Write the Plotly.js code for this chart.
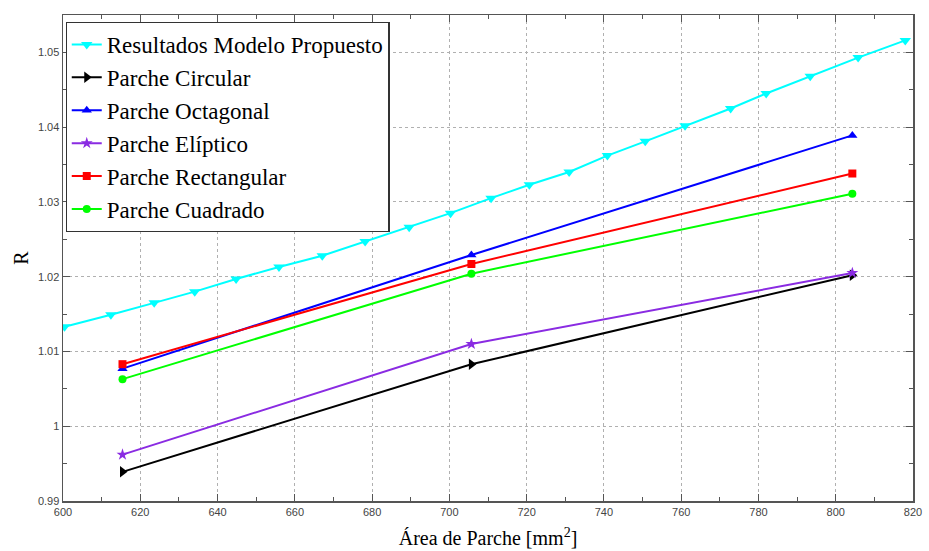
<!DOCTYPE html>
<html>
<head>
<meta charset="utf-8">
<script src="https://cdn.plot.ly/plotly-3.0.1.min.js"></script>
<style>html,body{margin:0;padding:0;background:#fff;}#chart{width:929px;height:551px;}</style>
</head>
<body>
<div id="chart"></div>
<script>
// Resultados Modelo Propuesto
const modelX = [600.4, 612.4, 623.6, 634.1, 644.8, 655.9, 667.1, 678.2, 689.6, 700.3, 710.8, 720.7, 731.0, 740.9, 750.7, 761.0, 772.8, 782.0, 793.4, 805.8, 818.0];
const modelY = [1.0133, 1.0149, 1.0165, 1.0180, 1.0197, 1.0213, 1.0228, 1.0247, 1.0266, 1.0285, 1.0305, 1.0323, 1.0340, 1.0362, 1.0381, 1.0402, 1.0425, 1.0445, 1.0468, 1.0493, 1.0516];

// Measured patches (area in mm^2)
const patchX = [615.4, 705.7, 804.3];
const circularY = [0.9939, 1.0083, 1.0202];
const octagonalY = [1.0077, 1.0229, 1.0389];
const ellipticY = [0.9962, 1.0110, 1.0205];
const rectangularY = [1.0083, 1.0217, 1.0338];
const squareY = [1.0063, 1.0204, 1.0311];

const names = ["Resultados Modelo Propuesto", "Parche Circular", "Parche Octagonal", "Parche Elíptico", "Parche Rectangular", "Parche Cuadrado"];
const xTickVals = [600, 620, 640, 660, 680, 700, 720, 740, 760, 780, 800, 820];
const yTickVals = [0.99, 1.00, 1.01, 1.02, 1.03, 1.04, 1.05];

function tr(name, x, y, color, symbol, size) {
  return {
    type: 'scatter', mode: 'lines+markers', name: name, x: x, y: y,
    line: {color: color, width: 2},
    marker: {color: color, symbol: symbol, size: size, line: {width: 0}}
  };
}

const data = [
  tr(names[0], modelX, modelY, '#00ffff', 'triangle-down', 10),
  tr(names[1], patchX, circularY, '#000000', 'triangle-right', 10),
  tr(names[2], patchX, octagonalY, '#0000ff', 'triangle-up', 9),
  tr(names[3], patchX, ellipticY, '#8a2be2', 'star', 9),
  tr(names[4], patchX, rectangularY, '#ff0000', 'square', 8),
  tr(names[5], patchX, squareY, '#00ff00', 'circle', 8)
];

const serif = 'Liberation Serif, Times New Roman, serif';
const tickFont = {family: 'Liberation Sans Narrow, Liberation Sans, Arial, sans-serif', size: 11, color: '#444'};

const layout = {
  width: 929, height: 551,
  margin: {l: 63, r: 16, t: 15, b: 50},
  paper_bgcolor: '#fff', plot_bgcolor: '#fff',
  font: {family: serif},
  showlegend: true,
  legend: {
    x: 0.003, y: 0.986, xanchor: 'left', yanchor: 'top',
    bgcolor: '#fff', bordercolor: '#333', borderwidth: 1.2,
    font: {family: serif, size: 23, color: '#000'},
    tracegroupgap: 0, itemwidth: 30
  },
  xaxis: {
    range: [600, 820], tickvals: xTickVals, ticks: 'inside', ticklen: 7, tickcolor: '#555',
    showline: true, linecolor: '#555', linewidth: 1.5, mirror: 'ticks',
    showgrid: true, gridcolor: '#b0b0b0', griddash: 'dot', gridwidth: 1,
    zeroline: false, tickfont: tickFont,
    minor: {dtick: 10, tick0: 600, ticks: 'inside', ticklen: 4, tickcolor: '#555', showgrid: false},
    title: {text: 'Área de Parche [mm<sup>2</sup>]', standoff: 14,
      font: {family: serif, size: 20, color: '#000'}}
  },
  yaxis: {
    range: [0.99, 1.055], tickvals: yTickVals, ticks: 'inside', ticklen: 7, tickcolor: '#555',
    showline: true, linecolor: '#555', linewidth: 1.5, mirror: 'ticks',
    showgrid: true, gridcolor: '#b0b0b0', griddash: 'dot', gridwidth: 1,
    zeroline: false, tickfont: tickFont,
    minor: {dtick: 0.005, tick0: 0.99, ticks: 'inside', ticklen: 4, tickcolor: '#555', showgrid: false},
    title: {text: 'R', standoff: 4,
      font: {family: serif, size: 20, color: '#000'}}
  }
};

Plotly.newPlot('chart', data, layout, {displayModeBar: false, staticPlot: true});
</script>
</body>
</html>
